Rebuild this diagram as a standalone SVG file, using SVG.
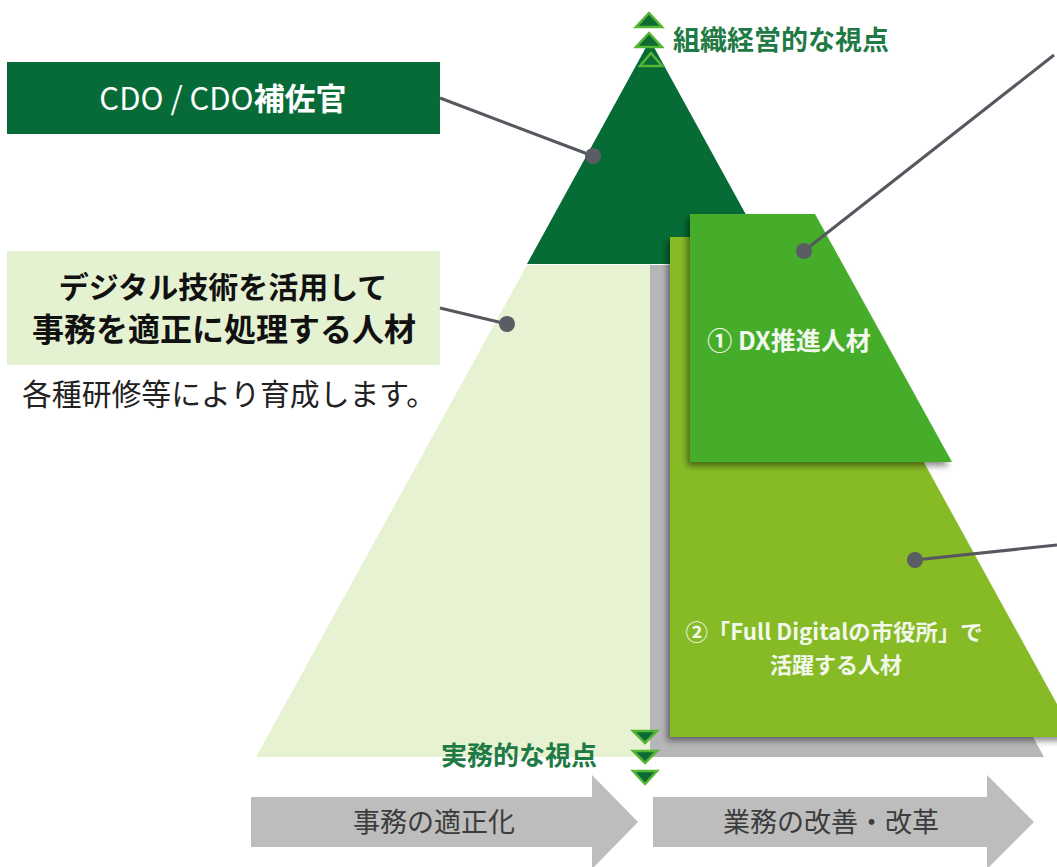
<svg xmlns="http://www.w3.org/2000/svg" width="1057" height="867" viewBox="0 0 1057 867">
<defs>
<filter id="sh" x="-20%" y="-20%" width="140%" height="140%">
<feGaussianBlur in="SourceAlpha" stdDeviation="3"/>
<feOffset dx="-3" dy="4" result="b"/>
<feComponentTransfer><feFuncA type="linear" slope="0.45"/></feComponentTransfer>
<feMerge><feMergeNode/><feMergeNode in="SourceGraphic"/></feMerge>
</filter>
</defs>
<style>
text{font-family:"Noto Sans CJK JP","Noto Sans",sans-serif;}
.conn{stroke:#55595f;stroke-width:3;fill:none;}
.dot{fill:#5a5e64;}
.mk{fill:#0d6b35;stroke:#55b534;stroke-width:2.5;stroke-linejoin:miter;}
.persp{fill:#1f7a45;font-weight:bold;}
.wt{fill:#f2f8ec;font-weight:bold;}
.arr{fill:#bdbdbd;}
.atx{fill:#3c3c3c;font-size:27px;text-anchor:middle;}
</style>
<rect width="1057" height="867" fill="#ffffff"/>

<g id="pyramid">
<polygon points="650,40 773,264 527,264" fill="#066b35"/>
<polygon points="527,265 650,265 650,757 256,757" fill="#e6f2d2"/>
<polygon points="650,265 773,265 1044,757 650,757" fill="#b6b6b9"/>
</g>

<g id="node-fulldigital">
<polygon points="670,237 800,237 1075,737 670,737" fill="#86bb27" filter="url(#sh)"/>
<text class="wt" x="834" y="640" font-size="22" text-anchor="middle" textLength="297" lengthAdjust="spacingAndGlyphs">②「Full Digitalの市役所」で</text>
<text class="wt" x="836" y="673" font-size="22" text-anchor="middle">活躍する人材</text>
</g>

<g id="node-dx">
<polygon points="690,214 815,214 952,462 690,462" fill="#45ad2c" filter="url(#sh)"/>
<text class="wt" x="789" y="350" font-size="25" text-anchor="middle">① DX推進人材</text>
</g>

<g id="markers-top">
<polygon class="mk" points="649,13 662,27 636,27"/>
<polygon class="mk" points="649,33 662,47 636,47"/>
<polygon points="651,53 662,66 640,66" fill="none" stroke="#55b534" stroke-width="2.5"/>
<text class="persp" x="673" y="50" font-size="27">組織経営的な視点</text>
</g>

<g id="markers-bottom">
<polygon class="mk" points="633,731 657,731 645,743"/>
<polygon class="mk" points="633,751 657,751 645,763"/>
<polygon class="mk" points="633,771 657,771 645,784"/>
<text class="persp" x="597" y="765" font-size="26" text-anchor="end">実務的な視点</text>
</g>

<g id="node-cdo">
<rect x="7" y="62" width="433" height="72" fill="#066b36"/>
<text x="223" y="110" font-size="31" fill="#ffffff" text-anchor="middle">CDO / CDO<tspan font-weight="bold">補佐官</tspan></text>
</g>

<g id="node-jimu">
<rect x="7" y="251" width="433" height="114" fill="#e5f2d2"/>
<text x="223" y="298" font-size="30" font-weight="bold" fill="#111111" text-anchor="middle">デジタル技術を活用して</text>
<text x="224" y="341" font-size="32" font-weight="bold" fill="#111111" text-anchor="middle">事務を適正に処理する人材</text>
<text x="229" y="405" font-size="30" fill="#222222" text-anchor="middle" textLength="414" lengthAdjust="spacingAndGlyphs">各種研修等により育成します。</text>
</g>

<g id="arrows">
<polygon class="arr" points="251,797 592,797 592,775 638,822 592,869 592,847 251,847"/>
<text class="atx" x="434" y="832">事務の適正化</text>
<polygon class="arr" points="653,797 987,797 987,775 1034,822 987,869 987,847 653,847"/>
<text class="atx" x="831" y="832">業務の改善・改革</text>
</g>

<g id="connectors">
<line class="conn" x1="440" y1="98" x2="593" y2="156"/>
<circle class="dot" cx="593" cy="156" r="8"/>
<line class="conn" x1="440" y1="308" x2="507" y2="324"/>
<circle class="dot" cx="507" cy="324" r="8"/>
<line class="conn" x1="1054" y1="55" x2="804" y2="251"/>
<circle class="dot" cx="804" cy="251" r="8"/>
<line class="conn" x1="1057" y1="545" x2="915" y2="560"/>
<circle class="dot" cx="915" cy="560" r="8"/>
</g>
</svg>
